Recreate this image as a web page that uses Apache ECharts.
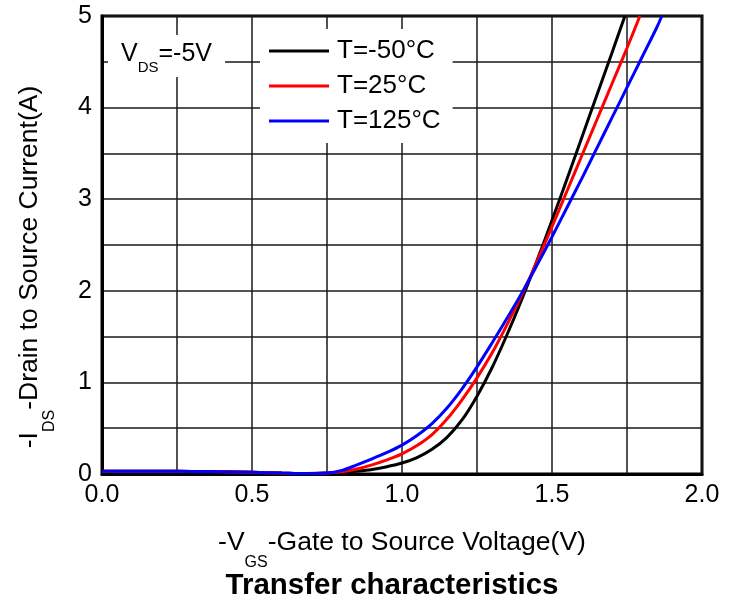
<!DOCTYPE html>
<html>
<head>
<meta charset="utf-8">
<script src="https://cdn.jsdelivr.net/npm/echarts@6/dist/echarts.min.js"></script>
<style>
  html, body { margin: 0; padding: 0; background: #fff; }
  #chart { width: 737px; height: 604px; }
</style>
</head>
<body>
<div id="chart"></div>
<script>
// Transfer characteristics: -I_DS vs -V_GS at V_DS = -5 V for three temperatures
const seriesNames = ['T=-50°C', 'T=25°C', 'T=125°C'];
const seriesColors = ['#000000', '#ff0000', '#0000ff'];

// shared sub-threshold leakage segment
const vgsLow = [0, 0.1, 0.2, 0.3, 0.4, 0.5, 0.6, 0.68, 0.75];
const idsLow = [0.03, 0.03, 0.03, 0.028, 0.024, 0.018, 0.01, 0.005, 0.01];

// T = -50 °C
const vgsCold = [0.8, 0.85, 0.9, 0.95, 1.0, 1.05, 1.1, 1.15, 1.2, 1.25, 1.3, 1.35, 1.4, 1.45, 1.5, 1.55, 1.6, 1.65, 1.7, 1.743];
const idsCold = [0.015, 0.03, 0.05, 0.08, 0.12, 0.18, 0.27, 0.4, 0.59, 0.85, 1.16, 1.52, 1.91, 2.33, 2.77, 3.22, 3.68, 4.14, 4.6, 5.0];

// T = 25 °C
const vgsRoom = [0.8, 0.85, 0.9, 0.95, 1.0, 1.05, 1.1, 1.15, 1.2, 1.25, 1.3, 1.35, 1.4, 1.45, 1.5, 1.55, 1.6, 1.65, 1.7, 1.75, 1.793];
const idsRoom = [0.025, 0.055, 0.1, 0.155, 0.22, 0.31, 0.43, 0.6, 0.81, 1.05, 1.32, 1.63, 1.96, 2.32, 2.7, 3.09, 3.48, 3.87, 4.26, 4.65, 5.0];

// T = 125 °C
const vgsHot = [0.8, 0.85, 0.9, 0.95, 1.0, 1.05, 1.1, 1.15, 1.2, 1.25, 1.3, 1.35, 1.4, 1.45, 1.5, 1.55, 1.6, 1.65, 1.7, 1.75, 1.8, 1.85, 1.866];
const idsHot = [0.04, 0.1, 0.165, 0.235, 0.315, 0.42, 0.55, 0.72, 0.93, 1.17, 1.43, 1.7, 1.98, 2.28, 2.59, 2.91, 3.23, 3.56, 3.89, 4.22, 4.55, 4.88, 5.0];

const xMin = 0, xMax = 2, xStep = 0.5;
const yMin = 0, yMax = 5, yStep = 1;

function pairs(vs, is) {
  const out = vgsLow.map((v, k) => [v, idsLow[k]]);
  vs.forEach((v, k) => out.push([v, is[k]]));
  return out;
}
const curves = [pairs(vgsCold, idsCold), pairs(vgsRoom, idsRoom), pairs(vgsHot, idsHot)];

const FONT = '"Liberation Sans", Arial, sans-serif';
const gridLine = { color: '#1a1a1a', width: 1.5 };
// lowered subscript for the axis names
const subStyle = { fontFamily: FONT, fontSize: 16, color: '#000', padding: [40, 0, 0, 0] };

const chart = echarts.init(document.getElementById('chart'), null, { renderer: 'canvas' });
chart.setOption({
  animation: false,
  backgroundColor: '#ffffff',
  textStyle: { fontFamily: FONT },
  title: {
    text: 'Transfer characteristics',
    left: 387,
    top: 566,
    textAlign: 'center',
    textStyle: { fontFamily: FONT, fontSize: 29.5, fontWeight: 'bold', color: '#000' }
  },
  grid: {
    left: 102, right: 35, top: 16, bottom: 130,
    show: true, borderColor: '#000', borderWidth: 3, backgroundColor: 'transparent'
  },
  legend: {
    data: seriesNames,
    orient: 'vertical',
    left: 260, top: 29,
    padding: [9, 12, 9, 9],
    backgroundColor: '#ffffff',
    icon: 'rect',
    itemWidth: 60, itemHeight: 3,
    itemGap: 9,
    textStyle: { fontFamily: FONT, fontSize: 26, color: '#000', lineHeight: 26, padding: [0, 0, 0, 3] }
  },
  xAxis: {
    type: 'value',
    min: xMin, max: xMax, interval: xStep,
    name: '-V{sub|GS}-Gate to Source Voltage(V)',
    nameLocation: 'middle',
    nameGap: 41,
    nameTextStyle: {
      fontFamily: FONT, fontSize: 26.5, color: '#000',
      rich: { sub: subStyle }
    },
    axisLine: { show: true, lineStyle: { color: '#000', width: 3 } },
    axisTick: { show: false },
    axisLabel: { color: '#000', fontSize: 25, fontFamily: FONT, margin: 9, formatter: v => v.toFixed(1) },
    splitLine: { show: true, lineStyle: gridLine },
    minorTick: { show: false, splitNumber: 2 },
    minorSplitLine: { show: true, lineStyle: gridLine }
  },
  yAxis: {
    type: 'value',
    min: yMin, max: yMax, interval: yStep,
    name: '-I{sub|DS}-Drain to Source Current(A)',
    nameLocation: 'middle',
    nameGap: 44,
    nameRotate: 90,
    nameTextStyle: {
      fontFamily: FONT, fontSize: 26.5, color: '#000',
      padding: [0, 44, 0, 0],
      rich: { sub: subStyle }
    },
    axisLine: { show: true, lineStyle: { color: '#000', width: 3 } },
    axisTick: { show: false },
    axisLabel: { color: '#000', fontSize: 25, fontFamily: FONT, margin: 10 },
    splitLine: { show: true, lineStyle: gridLine },
    minorTick: { show: false, splitNumber: 2 },
    minorSplitLine: { show: true, lineStyle: gridLine }
  },
  graphic: [
    {
      type: 'rect', z: 10,
      shape: { x: 108, y: 35, width: 117, height: 42 },
      style: { fill: '#ffffff' }
    },
    {
      type: 'text', z: 11,
      x: 121, y: 54,
      style: {
        text: 'V{sub|DS}=-5V',
        fontFamily: FONT, fontSize: 25, fill: '#000',
        verticalAlign: 'middle',
        rich: { sub: { fontFamily: FONT, fontSize: 15, fill: '#000', padding: [27, 0, 0, 0] } }
      }
    }
  ],
  series: seriesNames.map((name, k) => ({
    name,
    type: 'line',
    data: curves[k],
    smooth: 0.35,
    symbol: 'none',
    clip: true,
    color: seriesColors[k],
    lineStyle: { color: seriesColors[k], width: 3 },
    z: 3
  }))
});
</script>
</body>
</html>
